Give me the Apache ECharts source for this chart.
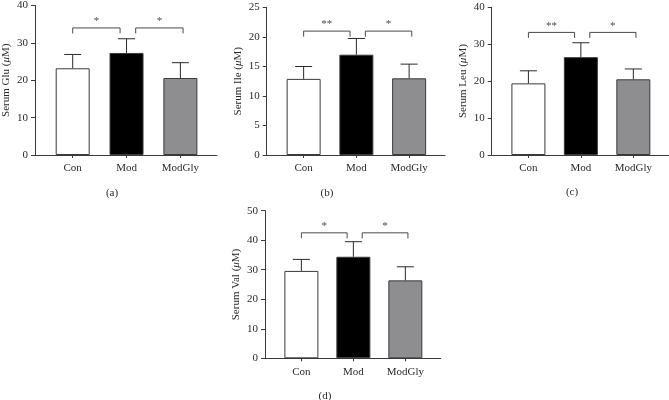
<!DOCTYPE html>
<html>
<head>
<meta charset="utf-8">
<script src="https://cdn.jsdelivr.net/npm/echarts@6/dist/echarts.min.js"></script>
<style>html,body{margin:0;padding:0;background:#fff}#c{width:669px;height:400px}</style>
</head>
<body>
<div id="c"></div>
<script>
// ---- data ----
const categories = ['Con', 'Mod', 'ModGly'];
const barColors = ['#ffffff', '#000000', '#8e8e90'];

const gluMean = [23.2, 27.3, 20.6];
const gluSD   = [3.7, 3.8, 4.1];
const ileMean = [12.9, 17.0, 13.0];
const ileSD   = [2.1, 2.75, 2.4];
const leuMean = [19.4, 26.5, 20.5];
const leuSD   = [3.4, 3.9, 2.8];
const valMean = [29.6, 34.4, 26.4];
const valSD   = [3.9, 5.1, 4.6];

const gluStars = ['*', '*'];
const ileStars = ['**', '*'];
const leuStars = ['**', '*'];
const valStars = ['*', '*'];

const gluBracketY = 34;
const ileBracketY = 21;
const leuBracketY = 33.2;
const valBracketY = 42.5;

// bracket spans in category units (Con->Mod, Mod->ModGly)
const bracketSpans = [[0, 0.88], [1.17, 2.05]];

const yTicks = {glu: [0, 40, 10], ile: [0, 25, 5], leu: [0, 40, 10], val: [0, 50, 10]};
const yNames = ['Serum Glu', 'Serum Ile', 'Serum Leu', 'Serum Val'];
const panelLabels = ['(a)', '(b)', '(c)', '(d)'];

// ---- layout ----
const FONT = 'Liberation Serif';
const AXIS = '#3a3a3a';
const TEXT = '#2a2a2a';
const grids = [
  {left: 35, top: 4.3, width: 182, height: 150.7},
  {left: 266.7, top: 7.5, width: 178.3, height: 147.5},
  {left: 491.7, top: 7.3, width: 177.3, height: 147.7},
  {left: 265, top: 210.7, width: 175.7, height: 147.6}
];
const titlePos = [[107, 183], [322, 183], [567, 182], [320, 386]];

const panels = [
  {mean: gluMean, sd: gluSD, stars: gluStars, by: gluBracketY, y: yTicks.glu},
  {mean: ileMean, sd: ileSD, stars: ileStars, by: ileBracketY, y: yTicks.ile},
  {mean: leuMean, sd: leuSD, stars: leuStars, by: leuBracketY, y: yTicks.leu},
  {mean: valMean, sd: valSD, stars: valStars, by: valBracketY, y: yTicks.val}
];

const xAxis = [], yAxis = [], series = [], title = [];
panels.forEach((p, i) => {
  xAxis.push({
    type: 'value', gridIndex: i, min: -0.7, max: 2.68,
    splitLine: {show: false},
    axisLine: {show: true, onZero: false, lineStyle: {color: AXIS, width: 1}},
    axisTick: {show: true, length: 3, lineStyle: {color: AXIS}, customValues: [0, 1, 2]},
    axisLabel: {show: true, customValues: [0, 1, 2], margin: 8,
      formatter: v => categories[Math.round(v)] || '',
      fontFamily: FONT, fontSize: 11, color: TEXT}
  });
  yAxis.push({
    type: 'value', gridIndex: i, min: p.y[0], max: p.y[1], interval: p.y[2],
    splitLine: {show: false},
    axisLine: {show: true, onZero: false, lineStyle: {color: AXIS, width: 1}},
    axisTick: {show: true, length: 4, lineStyle: {color: AXIS}},
    axisLabel: {margin: 7, fontFamily: FONT, fontSize: 11, color: TEXT},
    name: yNames[i] + ' ({i|μ}M)',
    nameLocation: 'middle', nameGap: 23,
    nameTextStyle: {fontFamily: FONT, fontSize: 11, color: TEXT,
      rich: {i: {fontFamily: FONT, fontSize: 11, fontStyle: 'italic', color: TEXT}}}
  });
  series.push({
    type: 'bar', xAxisIndex: i, yAxisIndex: i, barWidth: 34,
    data: p.mean.map((m, k) => ({value: [k, m],
      itemStyle: {color: barColors[k], borderColor: AXIS, borderWidth: 1}})),
    z: 2
  });
  series.push({
    type: 'custom', xAxisIndex: i, yAxisIndex: i, z: 3,
    data: p.mean.map((m, k) => [k, m, p.sd[k]]),
    renderItem: (params, api) => {
      const x = api.value(0), m = api.value(1), s = api.value(2);
      const a = api.coord([x, m]), b = api.coord([x, m + s]);
      const st = {stroke: '#2a2a2a', lineWidth: 1};
      return {type: 'group', children: [
        {type: 'line', shape: {x1: a[0], y1: a[1], x2: b[0], y2: b[1]}, style: st},
        {type: 'line', shape: {x1: b[0] - 8.5, y1: b[1], x2: b[0] + 8.5, y2: b[1]}, style: st}
      ]};
    }
  });
  series.push({
    type: 'custom', xAxisIndex: i, yAxisIndex: i, z: 3,
    data: bracketSpans.map(s => [s[0], s[1], p.by]),
    renderItem: (params, api) => {
      const a = api.coord([api.value(0), api.value(2)]);
      const b = api.coord([api.value(1), api.value(2)]);
      const st = {stroke: '#4a4a4a', lineWidth: 1};
      const drop = 5.5;
      return {type: 'group', children: [
        {type: 'polyline', shape: {points: [[a[0], a[1] + drop], [a[0], a[1]], [b[0], b[1]], [b[0], b[1] + drop]]}, style: Object.assign({fill: null}, st)},
        {type: 'text', x: (a[0] + b[0]) / 2, y: a[1] - 1,
          style: {text: p.stars[params.dataIndex], align: 'center', verticalAlign: 'bottom',
            font: '11px "' + FONT + '"', fill: '#4a4a4a'}}
      ]};
    }
  });
  title.push({
    text: panelLabels[i], left: titlePos[i][0], top: titlePos[i][1], textAlign: 'center',
    textStyle: {fontFamily: FONT, fontSize: 11, fontWeight: 'normal', color: TEXT}
  });
});

const chart = echarts.init(document.getElementById('c'), null, {renderer: 'canvas'});
chart.setOption({
  animation: false,
  backgroundColor: '#ffffff',
  title, grid: grids, xAxis, yAxis, series
});
</script>
</body>
</html>
